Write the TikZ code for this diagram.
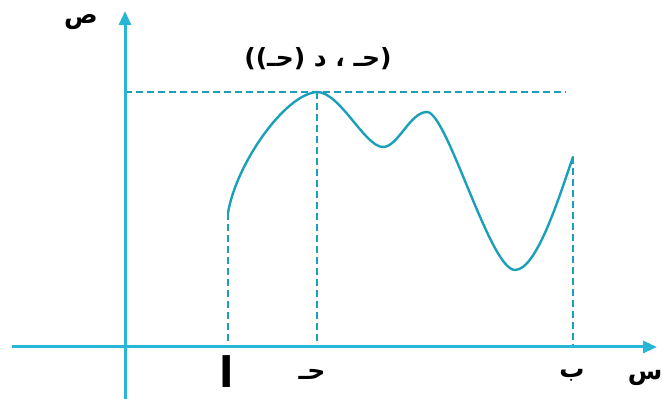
\documentclass[tikz,border=0pt]{standalone}
\usepackage{fontspec}
\newfontfamily\arabicfont[Script=Arabic]{DejaVu Sans}
\TeXXeTstate=1
\usetikzlibrary{arrows.meta}
\definecolor{axiscyan}{RGB}{41,182,214}
\definecolor{curveteal}{RGB}{27,160,186}
\tikzset{
  axisline/.style={draw=axiscyan, line width=3pt, -{Triangle[length=14pt,width=12pt]}},
  guideline/.style={draw=curveteal, line width=1.5pt, dash pattern=on 7pt off 4pt, line cap=butt},
  arlabel/.style={inner sep=0pt, font=\arabicfont\bfseries\fontsize{25}{30}\selectfont}
}
\begin{document}
\begin{tikzpicture}
% Graph of a function with its greatest value at c
\def\pxsz{1pt}
\providecommand{\graphCurveWidth}{2.4pt}
\begin{scope}[x=\pxsz, y=\pxsz, line join=round]
  \useasboundingbox (0,0) rectangle (662,399);
  % Origin and axis ends
  \coordinate (o) at (125,52);
  \coordinate (xstart) at (12,52);
  \coordinate (xend) at (657,52);
  \coordinate (ystart) at (125,0);
  \coordinate (yend) at (125,388);
  % Points of the curve
  \coordinate (a) at (228,186);
  \coordinate (c) at (317,307);
  \coordinate (dip) at (383,252);
  \coordinate (hump) at (427,287);
  \coordinate (low) at (515,129);
  \coordinate (b) at (573,242);
  \coordinate (hend) at (566,307);
  % Dashed guides
  \begin{scope}[guideline]
    \draw (a) -- (a |- o);
    \draw (c) -- (c |- o);
    \draw (b) -- (b |- o);
    \draw (o |- c) -- (hend);
  \end{scope}
  % Axes
  \draw[axisline] (xstart) -- (xend);
  \draw[axisline] (ystart) -- (yend);
  % Curve
  \draw[curveteal, line width=\graphCurveWidth, line cap=round]
    (a) .. controls (236,235) and (285,305) .. (c)
        .. controls (340,307) and (365,252) .. (dip)
        .. controls (398,252) and (410,287) .. (hump)
        .. controls (447,287) and (490,129) .. (low)
        .. controls (537,129) and (560,205) .. (b);
  % Labels
  \node[arlabel] (ylab) at (81,377) {\beginR ص\endR};
  \node[arlabel] (xlab) at (645,21) {\beginR س\endR};
  \node[arlabel, font=\arabicfont\bfseries\fontsize{42}{44}\selectfont] (alab) at (227,27) {\beginR ا\endR};
  \node[arlabel] (clab) at (312,25) {\beginR حـ\endR};
  \node[arlabel] (blab) at (572,24) {\beginR ب\endR};
  \node[arlabel] (plab) at (318,340) {\beginR(حـ ، د (حـ))\endR};
\end{scope}
\end{tikzpicture}
\end{document}
